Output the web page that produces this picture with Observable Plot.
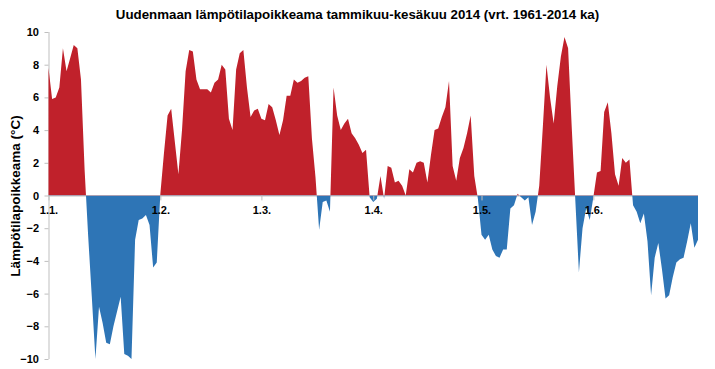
<!DOCTYPE html>
<html><head><meta charset="utf-8">
<script src="https://cdn.jsdelivr.net/npm/d3@7"></script>
<script src="https://cdn.jsdelivr.net/npm/@observablehq/plot@0.6"></script>
<style>
body{margin:0;background:#fff;font-family:"Liberation Sans",Arial,sans-serif;}
#title{width:715px;height:22px;line-height:30px;font-weight:bold;font-size:13.3px;text-align:center;overflow:visible;white-space:nowrap;}
#chart{width:715px;height:347px;}
</style></head><body>
<div id="title"></div>
<div id="chart"></div>
<script>
const title = "Uudenmaan lämpötilapoikkeama tammikuu-kesäkuu 2014 (vrt. 1961-2014 ka)";
const yLabel = "Lämpötilapoikkeama (°C)";
const monthLabels = ["1.1.", "1.2.", "1.3.", "1.4.", "1.5.", "1.6."];
const yTicks = [-10, -8, -6, -4, -2, 0, 2, 4, 6, 8, 10];

// daily temperature anomaly (°C), 2014
const jan = [7.8, 5.9, 6.0, 6.6, 9.0, 7.6, 8.4, 9.2, 9.0, 7.1, 1.6, -2.5, -6.2, -10.0, -6.8, -7.8, -9.0, -9.1, -8.0, -7.1, -6.2, -9.7, -9.8, -10.0, -2.7, -1.5, -1.4, -1.2, -1.8, -4.4, -4.1];
const feb = [0.1, 2.6, 4.9, 5.3, 3.3, 1.3, 4.0, 7.6, 8.9, 8.8, 7.1, 6.5, 6.5, 6.5, 6.3, 6.9, 7.1, 8.0, 7.7, 4.7, 4.0, 7.7, 8.7, 8.9, 6.6, 4.8, 5.2, 5.3];
const mar = [4.7, 4.6, 5.6, 5.4, 4.6, 3.7, 4.6, 6.1, 6.1, 7.1, 6.9, 7.0, 7.2, 7.3, 3.5, 1.1, -2.1, -0.4, -0.3, -1.0, 6.6, 4.9, 4.0, 4.4, 4.7, 3.8, 3.5, 3.1, 2.6, 2.8, -0.1];
const apr = [-0.4, -0.2, 1.2, -0.2, 1.8, 1.7, 0.8, 0.9, 0.6, 0.0, 1.6, 1.4, 2.0, 2.1, 2.0, 0.8, 2.5, 4.0, 4.1, 4.8, 5.4, 7.0, 1.8, 0.9, 2.3, 2.9, 3.8, 4.9, 1.2, -0.2];
const may = [-2.4, -2.7, -2.4, -3.3, -3.7, -3.8, -3.3, -3.3, -0.8, -0.6, 0.1, -0.1, -0.3, -0.1, -1.8, -1.0, 0.6, 4.2, 8.0, 6.0, 4.4, 6.7, 8.5, 9.7, 9.0, 4.2, -0.3, -4.7, -2.0, -0.8, -1.5];
const jun = [-0.1, 1.4, 1.5, 5.1, 5.7, 3.8, 1.3, 0.6, 2.3, 2.0, 2.2, -0.6, -1.0, -1.7, -1.1, -2.8, -6.1, -3.8, -2.9, -4.5, -6.3, -6.1, -5.0, -4.1, -3.9, -3.8, -2.8, -1.7, -3.2, -2.7];

const values = [...jan, ...feb, ...mar, ...apr, ...may, ...jun];
const data = values.map((v, i) => ({date: new Date(Date.UTC(2014, 0, 1 + i)), v}));
const monthStarts = monthLabels.map((_, m) => new Date(Date.UTC(2014, m, 1)));

const RED = "#C0212B", BLUE = "#2E75B6", GRAY = "#bfbfbf";
const W = 715, H = 347;

document.getElementById("title").textContent = title;

const plot = Plot.plot({
  width: W, height: H,
  marginTop: 10, marginBottom: 10, marginLeft: 48.5, marginRight: 17,
  style: {fontFamily: "Liberation Sans, Arial, sans-serif", fontSize: "11px", fontWeight: "bold", color: "#000", background: "#fff"},
  x: {type: "utc", domain: [data[0].date, data[data.length - 1].date], axis: null},
  y: {domain: [-10, 10], axis: null},
  marks: [
    Plot.ruleX([data[0].date], {y1: -10, y2: 10, stroke: GRAY}),
    Plot.axisY(yTicks, {tickSize: 4, tickPadding: 6, stroke: GRAY, fill: "#000", label: null, fontSize: 11}),
    Plot.ruleY([0], {stroke: GRAY}),
    Plot.areaY(data, {x: "date", y1: 0, y2: "v", fill: RED}),
    Plot.areaY(data, {x: "date", y1: 0, y2: "v", fill: BLUE}),
    Plot.ruleX(monthStarts, {y1: 0, y2: -0.3, stroke: GRAY}),
    Plot.text(monthLabels, {x: (d, i) => monthStarts[i], y: 0, dy: 14, text: d => d, fill: "#000", fontSize: 11}),
    Plot.text([yLabel], {x: data[0].date, y: 0, rotate: -90, dx: -33, textAnchor: "middle", text: d => d, fill: "#000", fontSize: 13.5})
  ]
});

// split the area into warm (above 0) and cold (below 0) halves
const y0 = plot.scale("y").apply(0);
const svg = d3.select(plot);
const defs = svg.insert("defs", ":first-child");
defs.append("clipPath").attr("id", "clipTop").append("rect").attr("x", 0).attr("y", 0).attr("width", W).attr("height", y0);
defs.append("clipPath").attr("id", "clipBot").append("rect").attr("x", 0).attr("y", y0).attr("width", W).attr("height", H - y0);
const areas = plot.querySelectorAll('g[aria-label="area"]');
if (areas.length >= 2) {
  areas[0].setAttribute("clip-path", "url(#clipTop)");
  areas[1].setAttribute("clip-path", "url(#clipBot)");
}

document.getElementById("chart").appendChild(plot);
</script>
</body></html>
